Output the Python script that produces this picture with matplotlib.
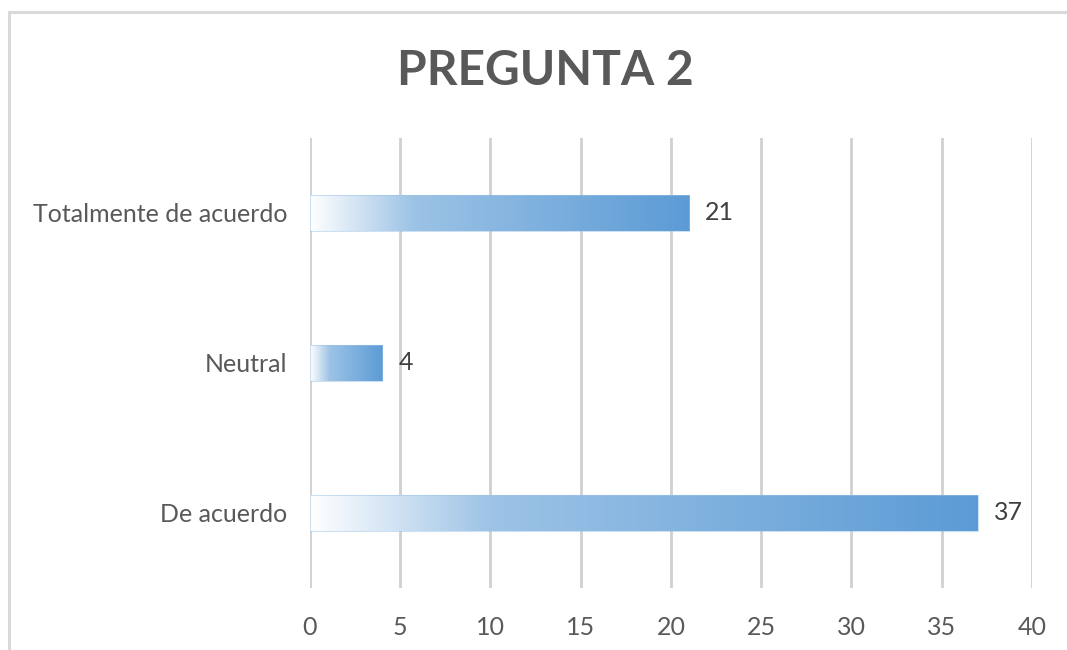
import numpy as np
import matplotlib.pyplot as plt
from matplotlib.colors import to_rgb

categorias = ['De acuerdo', 'Neutral', 'Totalmente de acuerdo']
respuestas = [37, 4, 21]
ticks_x = [0, 5, 10, 15, 20, 25, 30, 35, 40]

plt.rcParams['font.family'] = ['Lato', 'DejaVu Sans']

fig = plt.figure(figsize=(10.67, 6.5), dpi=100)
ax = fig.add_axes([0.2905, 0.0954, 0.6767, 0.6923])

# marco del gráfico (gris claro)
W, H = 1067, 650
fig.add_artist(plt.Line2D([9 / W, 1], [1 - 12 / H, 1 - 12 / H], color='#d9d9d9', lw=2.2,
                          transform=fig.transFigure))
fig.add_artist(plt.Line2D([9 / W, 9 / W], [1 - 12 / H, 0], color='#d9d9d9', lw=2.2,
                          transform=fig.transFigure))

# degradado blanco -> azul a lo largo de cada barra
stops = [(0.0, '#ffffff'), (0.27, '#9dc3e6'), (1.0, '#5b9bd5')]
t = np.linspace(0, 1, 256)
cols = np.array([to_rgb(c) for _, c in stops])
pos = [p for p, _ in stops]
grad = np.stack([np.interp(t, pos, cols[:, k]) for k in range(3)], axis=-1)[None, :, :]

alto = 0.235
for i, v in enumerate(respuestas):
    ax.imshow(grad, extent=[0, v, i - alto / 2, i + alto / 2], aspect='auto',
              interpolation='bilinear', zorder=2)
    ax.add_patch(plt.Rectangle((0, i - alto / 2), v, alto, fill=False,
                               edgecolor='#9dc3e6', lw=0.8, alpha=0.5, zorder=3))
    ax.text(v + 0.9, i, str(v), va='center', ha='left', fontsize=18, color='#404040')

ax.set_xlim(0, 40)
ax.set_ylim(-0.5, 2.5)
ax.set_xticks(ticks_x)
ax.set_yticks(range(len(categorias)))
ax.set_yticklabels(categorias)
ax.xaxis.grid(True, color='#d0d0d0', lw=2)
ax.set_axisbelow(True)
for s in ax.spines.values():
    s.set_visible(False)
ax.tick_params(length=0, labelsize=18, colors='#595959')
ax.tick_params(axis='x', pad=20)
ax.tick_params(axis='y', pad=16.5)

fig.text(0.511, 0.891, 'PREGUNTA 2', ha='center', va='center', fontsize=34.5,
         fontweight='bold', color='#595959')

fig.savefig('out.png', dpi=100)
